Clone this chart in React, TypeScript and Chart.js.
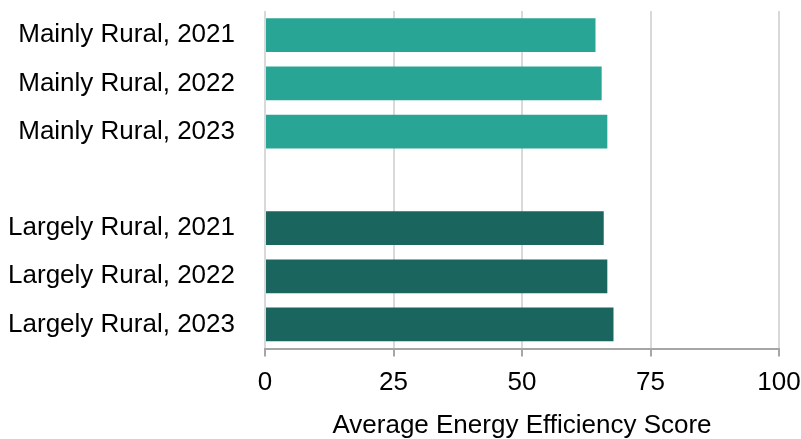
import React, { useEffect, useRef } from "react";
import { Chart, registerables } from "chart.js";

Chart.register(...registerables);

// Category labels (blank entry separates the two groups)
const categories = [
  "Mainly Rural, 2021",
  "Mainly Rural, 2022",
  "Mainly Rural, 2023",
  "",
  "Largely Rural, 2021",
  "Largely Rural, 2022",
  "Largely Rural, 2023",
];

// Average energy efficiency score per category
const scores: (number | null)[] = [64.3, 65.5, 66.6, null, 65.9, 66.6, 67.8];

const mainlyColor = "#29A596";
const largelyColor = "#1B655F";
const barColors = categories.map((c) => (c.startsWith("Largely") ? largelyColor : mainlyColor));

const xTicks = [0, 25, 50, 75, 100];
const xTitle = "Average Energy Efficiency Score";

const FONT = "'Liberation Sans', Arial, sans-serif";
const FONT_SIZE = 26;

export default function App() {
  const canvasRef = useRef<HTMLCanvasElement | null>(null);

  useEffect(() => {
    document.body.style.margin = "0";
    const canvas = canvasRef.current;
    if (!canvas) return;
    const chart = new Chart(canvas, {
      type: "bar",
      data: {
        labels: categories,
        datasets: [
          {
            data: scores,
            backgroundColor: barColors,
            borderWidth: 0,
            categoryPercentage: 1,
            barPercentage: 0.7,
          },
        ],
      },
      options: {
        indexAxis: "y",
        responsive: false,
        animation: false,
        maintainAspectRatio: false,
        layout: { padding: { top: 11, right: 22, bottom: 0, left: 0 } },
        plugins: {
          legend: { display: false },
          tooltip: { enabled: false },
        },
        scales: {
          x: {
            min: 0,
            max: 100,
            afterBuildTicks: (axis: any) => {
              axis.ticks = xTicks.map((v) => ({ value: v }));
            },
            afterFit: (axis: any) => {
              axis.paddingLeft = 0;
              axis.paddingRight = 0;
            },
            grid: {
              color: "#D9D9D9",
              lineWidth: 2,
              drawTicks: true,
              tickLength: 8,
              tickColor: "#A6A6A6",
              tickWidth: 2,
            },
            border: { display: true, color: "#A6A6A6", width: 2 },
            ticks: {
              color: "#000000",
              font: { family: FONT, size: FONT_SIZE },
              padding: 11,
              maxRotation: 0,
            },
            title: {
              display: true,
              text: xTitle,
              color: "#000000",
              font: { family: FONT, size: FONT_SIZE },
              padding: { top: 0, bottom: -2 },
            },
          },
          y: {
            afterFit: (axis: any) => {
              axis.width = 265;
              axis.paddingTop = 0;
              axis.paddingBottom = 0;
            },
            grid: { display: false, drawTicks: true, tickLength: 30 },
            border: { display: false },
            ticks: {
              color: "#000000",
              font: { family: FONT, size: FONT_SIZE },
              padding: 0,
              autoSkip: false,
            },
          },
        },
      },
    });
    return () => chart.destroy();
  }, []);

  return (
    <div style={{ width: 801, height: 439 }}>
      <canvas ref={canvasRef} width={801} height={439} style={{ display: "block" }} />
    </div>
  );
}
